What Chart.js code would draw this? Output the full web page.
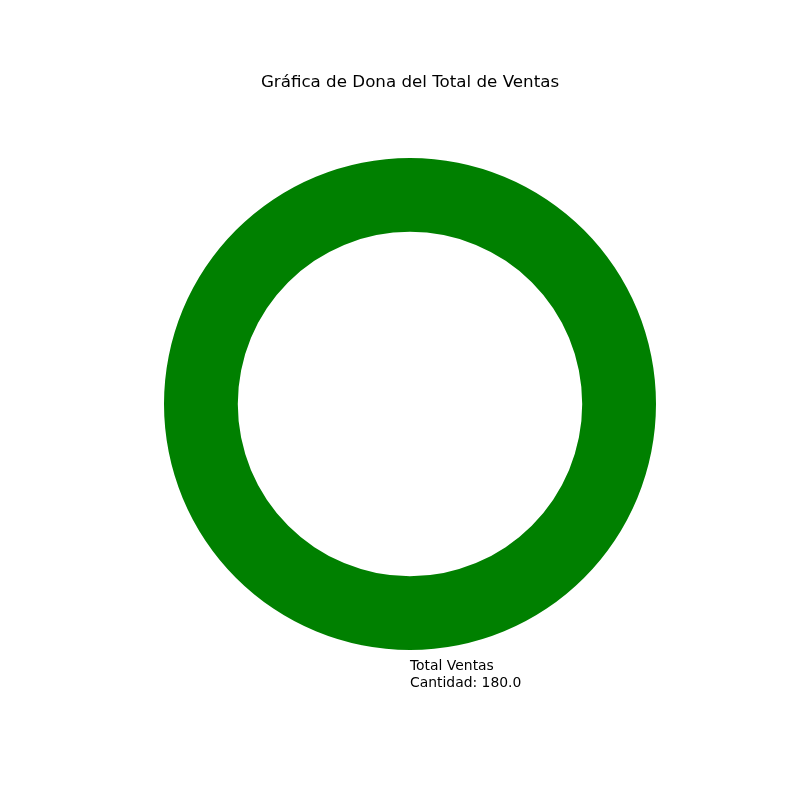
<!DOCTYPE html>
<html>
<head>
<meta charset="utf-8">
<script src="https://cdn.jsdelivr.net/npm/chart.js@4"></script>
<style>
html,body{margin:0;padding:0;background:#fff;}
#wrap{width:800px;height:800px;}
</style>
</head>
<body>
<div id="wrap"><canvas id="c" width="800" height="800"></canvas></div>
<script>
const titleText = "Gráfica de Dona del Total de Ventas";
const categories = ["Total Ventas"];
const values = [180.0];
const colors = ["#008000"];

const textPlugin = {
  id: 'mplText',
  afterDraw(chart) {
    const ctx = chart.ctx;
    ctx.save();
    ctx.fillStyle = '#000';
    ctx.font = '16.7px "DejaVu Sans"';
    ctx.textAlign = 'center';
    ctx.textBaseline = 'middle';
    ctx.fillText(titleText, 410, 83);
    const meta = chart.getDatasetMeta(0);
    meta.data.forEach((arc, i) => {
      const p = arc.getProps(['x','y','startAngle','endAngle','outerRadius'], true);
      const mid = (p.startAngle + p.endAngle) / 2;
      const r = p.outerRadius * 1.1;
      const lx = p.x + Math.cos(mid) * r;
      const ly = p.y + Math.sin(mid) * r;
      ctx.font = '13.9px "DejaVu Sans"';
      ctx.textAlign = Math.cos(mid) >= -1e-6 ? 'left' : 'right';
      ctx.textBaseline = 'middle';
      const lh = 16.7;
      const lines = [categories[i], 'Cantidad: ' + values[i].toFixed(1)];
      const y0 = ly - lh * (lines.length - 1) / 2;
      lines.forEach((t, k) => ctx.fillText(t, Math.round(lx), y0 + k * lh));
    });
    ctx.restore();
  }
};

new Chart(document.getElementById('c'), {
  type: 'doughnut',
  data: {
    labels: categories,
    datasets: [{
      data: values,
      backgroundColor: colors,
      borderWidth: 0,
      hoverOffset: 0
    }]
  },
  options: {
    responsive: false,
    animation: false,
    cutout: '70%',
    rotation: 0,
    layout: { padding: { left: 164, right: 144, top: 158, bottom: 150 } },
    plugins: {
      legend: { display: false },
      tooltip: { enabled: false },
      title: { display: false }
    }
  },
  plugins: [textPlugin]
});
</script>
</body>
</html>
